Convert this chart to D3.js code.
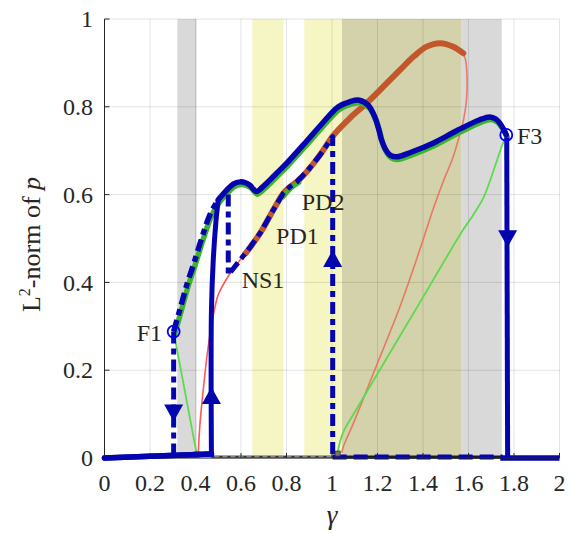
<!DOCTYPE html>
<html><head><meta charset="utf-8">
<script src="https://cdn.jsdelivr.net/npm/d3@7"></script>
<style>body{margin:0;background:#fff}svg{display:block}text{font-family:"Liberation Serif","Times New Roman",serif;fill:#262626}</style>
</head><body>
<script>
// ---- data ----
const xTicks = [0,0.2,0.4,0.6,0.8,1,1.2,1.4,1.6,1.8,2];
const yTicks = [0,0.2,0.4,0.6,0.8,1];
const bandRanges = [[0.32,0.405],[0.65,0.787],[0.878,1.044],[1.044,1.570],[1.570,1.746]];
const bandKinds  = ["gray","yellow","yellow","olive","gray"];

const upperDashed = [[0.304,0.288],[0.335,0.345],[0.365,0.400],[0.392,0.442],[0.430,0.505],[0.465,0.556],[0.500,0.588]];
const upperSolid = [[0.500,0.588],[0.537,0.610],[0.566,0.624],[0.596,0.629],[0.620,0.627],[0.640,0.621],[0.655,0.612],[0.668,0.607],[0.690,0.615],[0.713,0.626],[0.757,0.649],[0.800,0.671],[0.889,0.722],[0.950,0.758],[1.028,0.800],[1.080,0.812],[1.120,0.815],[1.160,0.803],[1.188,0.777],[1.205,0.750],[1.218,0.724],[1.235,0.703],[1.255,0.690],[1.284,0.686],[1.350,0.697],[1.444,0.717],[1.550,0.746],[1.647,0.770],[1.693,0.777],[1.720,0.772],[1.745,0.757],[1.766,0.736]];
const bottomSolidLeft = [[0,0],[0.2,0.004],[0.47,0.009]];
const jumpUp = [[0.470,0.009],[0.470,0.335],[0.478,0.450],[0.490,0.540],[0.500,0.588]];
const dropF1 = [[0.304,0.288],[0.304,0.0]];
const lowerDashed = [[0.544,0.600],[0.544,0.417],[0.596,0.451],[0.640,0.480],[0.684,0.512],[0.742,0.565],[0.786,0.603],[0.815,0.618],[0.845,0.629],[0.889,0.652],[0.947,0.690],[1.003,0.732],[1.003,0.0]];
const bottomDashedRight = [[1.003,0.002],[1.750,0.002]];
const bottomSolidRight = [[1.740,0.0],[2.0,0.0]];
const dropF3 = [[1.768,0.730],[1.772,0.0]];
const trivialUnstable = [[0.47,0.003],[1.003,0.003]];
const trivialUnderDash = [[1.003,0.002],[1.75,0.002]];

const redLeft = [[0.412,0.010],[0.420,0.080],[0.434,0.155],[0.456,0.254],[0.486,0.345],[0.500,0.372],[0.544,0.414],[0.596,0.451],[0.620,0.466]];
const orangeThick = [[0.620,0.466],[0.684,0.512],[0.742,0.565],[0.786,0.603],[0.815,0.618],[0.845,0.629],[0.889,0.652],[0.947,0.690],[1.006,0.735],[1.080,0.775],[1.152,0.808],[1.230,0.848],[1.299,0.884],[1.360,0.915],[1.416,0.937],[1.475,0.945],[1.533,0.937],[1.577,0.922]];
const redRight = [[1.577,0.922],[1.588,0.905],[1.592,0.884],[1.594,0.850],[1.591,0.815],[1.580,0.775],[1.560,0.734],[1.530,0.682],[1.489,0.630],[1.450,0.575],[1.416,0.522],[1.387,0.476],[1.299,0.345],[1.182,0.193],[1.094,0.079],[1.050,0.026],[1.043,0.012]];
const greenLeft = [[0.304,0.288],[0.405,0.010]];
const greenRight = [[1.766,0.736],[1.745,0.708],[1.716,0.664],[1.667,0.594],[1.620,0.553],[1.575,0.519],[1.535,0.485],[1.460,0.419],[1.386,0.354],[1.300,0.279],[1.200,0.192],[1.080,0.087],[1.055,0.065],[1.038,0.042],[1.025,0.012]];
const greenPD = [[0.780,0.598],[0.815,0.618],[0.850,0.631]];

const arrowTips = [[0.304,0.083,"down"],[0.470,0.162,"up"],[1.003,0.474,"up"],[1.772,0.480,"down"]];
const foldPoints = [[0.304,0.288],[1.766,0.736]];
const branchPoints = [[0.405,0.008],[1.025,0.010]];
const labelTexts = ["F1","F3","NS1","PD1","PD2"];
const labelAt = [[0.253,0.267],[1.813,0.715],[0.603,0.387],[0.754,0.487],[0.867,0.565]];
const labelAnchor = ["end","start","start","start","start"];

// ---- drawing ----
const W=570,H=533;
const x=d3.scaleLinear().domain([0,2]).range([104.5,559.5]);
const y=d3.scaleLinear().domain([0,1]).range([458,19]);
const svg=d3.select("body").append("svg").attr("width",W).attr("height",H);
const line=d3.line().x(d=>x(d[0])).y(d=>y(d[1]));
const smooth=d3.line().x(d=>x(d[0])).y(d=>y(d[1])).curve(d3.curveCatmullRom.alpha(0.5));
const bandColor={gray:"#d9d9d9",yellow:"#f6f6c4",olive:"#d3d2aa"};

svg.append("g").selectAll("rect").data(bandRanges).join("rect")
  .attr("x",d=>x(d[0])).attr("width",d=>x(d[1])-x(d[0]))
  .attr("y",y(1)).attr("height",y(0)-y(1))
  .attr("fill",(d,i)=>bandColor[bandKinds[i]]);

// grid
const grid=svg.append("g").attr("stroke","#000").attr("stroke-opacity",0.11).attr("stroke-width",1);
grid.selectAll(".gx").data(xTicks).join("line").attr("x1",d=>x(d)).attr("x2",d=>x(d)).attr("y1",y(0)).attr("y2",y(1));
grid.selectAll(".gy").data(yTicks).join("line").attr("y1",d=>y(d)).attr("y2",d=>y(d)).attr("x1",x(0)).attr("x2",x(2));

function path(data,stroke,width,opts={}){
  const p=svg.append("path").datum(data).attr("d",opts.smooth?smooth:line).attr("fill","none")
    .attr("stroke",stroke).attr("stroke-width",width)
    .attr("stroke-linejoin","round").attr("stroke-linecap",opts.cap||"butt");
  if(opts.dash)p.attr("stroke-dasharray",opts.dash);
  if(opts.op)p.attr("stroke-opacity",opts.op);
  if(opts.tr)p.attr("transform",opts.tr);
  return p;
}
const BLUE="#0505b0";
// thin branches
path(redLeft,"#ff3b3b",1.6,{op:0.85,smooth:true});
path(redRight,"#e8705c",1.6,{op:0.9,smooth:true});
path(greenLeft,"#5fd94f",1.8);
path(greenRight,"#5fd94f",1.8,{smooth:true});
// thick orange
path(orangeThick,"#c2572c",6,{cap:"round",smooth:true});
// green underlay of upper branch
path(upperDashed.concat(upperSolid.slice(1)),"#3cb52c",5.5,{tr:"translate(1,2.6)",cap:"round",smooth:true});
path(greenPD,"#3cb52c",5,{tr:"translate(1,1.5)",cap:"round",smooth:true});
// trivial branch
path(trivialUnstable,"#8c8c8c",3);
path(trivialUnstable,"#333",1.6,{dash:"3,5"});
path(trivialUnderDash,"#1a1a1a",3.2);
// blue
path(bottomSolidLeft,BLUE,5.5,{cap:"round"});
path(jumpUp,BLUE,5,{smooth:true});
path(upperSolid,BLUE,5.5,{cap:"round",smooth:true});
path(upperDashed,BLUE,5.5,{dash:"12,5,6,5",smooth:true});
path(dropF1,BLUE,5,{dash:"12,5,6,5"});
path(lowerDashed,BLUE,5,{dash:"12,5,6,5"});
path(bottomDashedRight,BLUE,5,{dash:"14,7"});
path(bottomSolidRight,BLUE,5.5);
path(dropF3,BLUE,5);

// arrowheads
svg.append("g").selectAll("path").data(arrowTips).join("path")
  .attr("transform",d=>`translate(${x(d[0])},${y(d[1])})`)
  .attr("d",d=>d[2]==="up"?"M0,0L-9.5,17L9.5,17Z":"M0,0L-9.5,-17L9.5,-17Z")
  .attr("fill",BLUE);

// markers
svg.append("g").selectAll("circle").data(foldPoints).join("circle")
  .attr("cx",d=>x(d[0])).attr("cy",d=>y(d[1])).attr("r",6)
  .attr("fill","none").attr("stroke","#0000ff").attr("stroke-width",1.8);
svg.append("g").selectAll("rect").data(branchPoints).join("rect")
  .attr("x",d=>x(d[0])-2.5).attr("y",d=>y(d[1])-2.5).attr("width",5).attr("height",5)
  .attr("fill","#7a7560").attr("stroke","#333").attr("stroke-width",0.8);

// labels
svg.append("g").selectAll("text").data(labelTexts).join("text")
  .attr("x",(d,i)=>x(labelAt[i][0])).attr("y",(d,i)=>y(labelAt[i][1]))
  .attr("text-anchor",(d,i)=>labelAnchor[i]).attr("font-size",24).text(d=>d);

// axes
const ax=svg.append("g").attr("stroke","#262626").attr("stroke-width",1);
ax.append("line").attr("x1",x(0)).attr("x2",x(0)).attr("y1",y(0)).attr("y2",y(1));
ax.append("line").attr("x1",x(0)).attr("x2",x(2)).attr("y1",y(0)).attr("y2",y(0));
ax.selectAll(".ty").data(yTicks).join("line").attr("x1",x(0)).attr("x2",x(0)+5).attr("y1",d=>y(d)).attr("y2",d=>y(d));
ax.selectAll(".tx").data(xTicks).join("line").attr("y1",y(0)).attr("y2",y(0)-5).attr("x1",d=>x(d)).attr("x2",d=>x(d));
path(bottomSolidLeft,BLUE,5.5,{cap:"round"});

svg.append("g").selectAll("text").data(xTicks).join("text")
  .attr("x",d=>x(d)).attr("y",491).attr("text-anchor","middle").attr("font-size",24)
  .attr("font-family","Liberation Serif").text(d=>d3.format("~g")(d));
svg.append("g").selectAll("text").data(yTicks).join("text")
  .attr("x",93).attr("y",d=>y(d)).attr("dy","0.34em").attr("text-anchor","end").attr("font-size",24)
  .attr("font-family","Liberation Serif").text(d=>d3.format("~g")(d));

svg.append("text").attr("x",(x(0)+x(2))/2).attr("y",524).attr("text-anchor","middle")
  .attr("font-size",27).attr("font-style","italic").text("γ");

const yl=svg.append("text").attr("transform",`translate(40,${(y(0)+y(1))/2+6}) rotate(-90)`)
  .attr("text-anchor","middle").attr("font-size",26);
yl.append("tspan").text("L");
yl.append("tspan").attr("dy",-10).attr("font-size",16).text("2");
yl.append("tspan").attr("dy",10).text("-norm of ");
yl.append("tspan").attr("font-style","italic").text("p");
</script>
</body></html>
